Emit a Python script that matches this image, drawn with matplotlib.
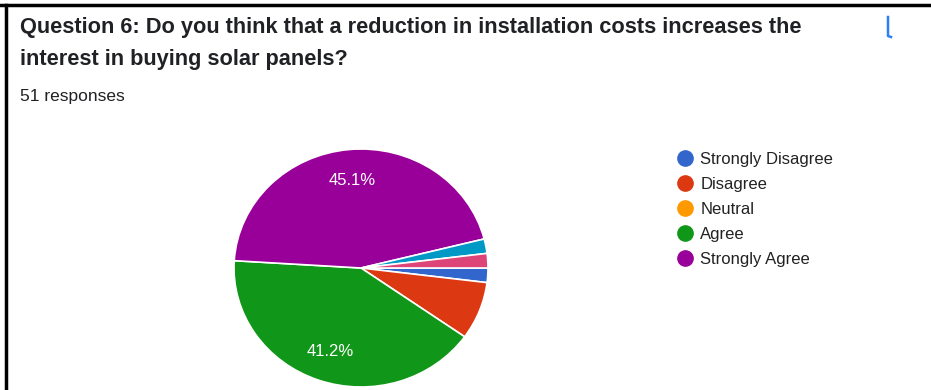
import matplotlib.pyplot as plt
from matplotlib.lines import Line2D

# legend categories (Google Forms palette)
legend_labels = ['Strongly Disagree', 'Disagree', 'Neutral', 'Agree', 'Strongly Agree']
legend_colors = ['#3366cc', '#dc3912', '#ff9900', '#109618', '#990099']

# pie slices, clockwise from 3 o'clock (two unlabeled extra answers at the end)
slice_counts = [1, 4, 21, 23, 1, 1]
slice_colors = ['#3366cc', '#dc3912', '#109618', '#990099', '#0099c6', '#dd4477']

W, H = 931, 390
fig = plt.figure(figsize=(W / 100, H / 100), dpi=100)

# pie axes: centre ~(361, 268) px, radius ~127 x 119 px
cx, cy, rx, ry = 361, 268, 127, 119
ax = fig.add_axes([(cx - rx) / W, (H - cy - ry) / H, 2 * rx / W, 2 * ry / H])


def pct(p):
    return f'{p:.1f}%' if p > 10 else ''


wedges, texts, autotexts = ax.pie(
    slice_counts, colors=slice_colors, startangle=0, counterclock=False,
    autopct=pct, pctdistance=0.74,
    wedgeprops=dict(edgecolor='white', linewidth=1.2),
    textprops=dict(color='white', fontsize=12, family='Liberation Sans'))
ax.set_aspect('auto')
ax.set_xlim(-1, 1)
ax.set_ylim(-1, 1)
ax.axis('off')

# title and subtitle
title_kw = dict(fontsize=15.7, fontweight='bold', family='Liberation Sans', color='#202124',
                va='center', ha='left')
fig.text(20 / W, 1 - 27 / H,
         'Question 6: Do you think that a reduction in installation costs increases the', **title_kw)
fig.text(20 / W, 1 - 60 / H, 'interest in buying solar panels?', **title_kw)
fig.text(20 / W, 1 - 96 / H, '51 responses', fontsize=12.5, family='Liberation Sans',
         color='#202124', va='center', ha='left')

# legend
handles = [Line2D([], [], marker='o', ls='', markersize=11, color=c) for c in legend_colors]
fig.legend(handles, legend_labels, loc='upper left', bbox_to_anchor=(676 / W, 1 - 152 / H),
           frameon=False, prop=dict(family='Liberation Sans', size=12),
           handletextpad=0.35, labelspacing=0.6, borderpad=0, handlelength=1.1,
           borderaxespad=0, labelcolor='#222222')

# screenshot frame (black top and left edges) and blue cursor mark
fig.add_artist(Line2D([0, 1], [1 - 5 / H, 1 - 5 / H], transform=fig.transFigure, color='black', lw=2.5))
fig.add_artist(Line2D([6 / W, 6 / W], [0, 1 - 5 / H], transform=fig.transFigure, color='black', lw=2.5))
fig.add_artist(Line2D([888 / W, 888 / W, 891 / W], [1 - 17 / H, 1 - 36 / H, 1 - 37 / H],
                      transform=fig.transFigure, color='#2d7ff9', lw=1.8))

fig.savefig('out.png', dpi=100)
